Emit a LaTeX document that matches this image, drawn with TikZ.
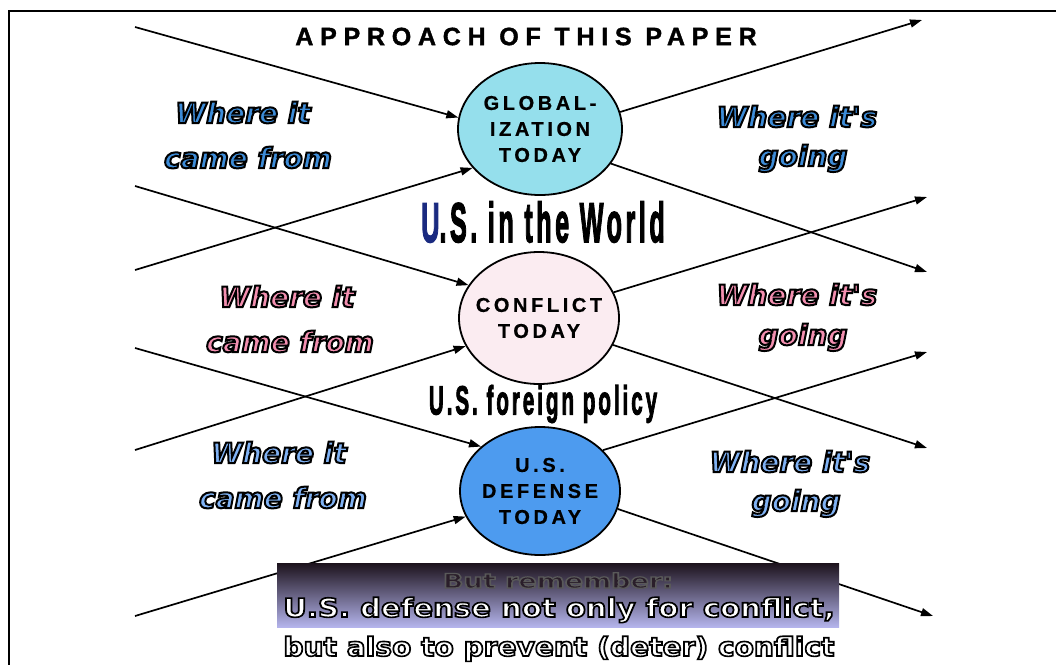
\documentclass[tikz,border=0pt]{standalone}
\usepackage{fontspec}
\setmainfont{Liberation Sans}
\newfontfamily\wfont{DejaVu Sans Bold Oblique}
\newfontfamily\bfont{DejaVu Sans Bold}
\newfontfamily\sfont{Liberation Sans Bold}[LetterSpace=18,FakeBold=0.6]
\newfontfamily\tfont{Liberation Sans Bold}[LetterSpace=27,FakeBold=1.5]
\newfontfamily\hfont{Liberation Sans Bold}[LetterSpace=14,FakeBold=3]
\usetikzlibrary{arrows.meta,shapes.geometric}
\definecolor{gblue}{HTML}{3D8CD8}
\definecolor{gpink}{HTML}{F38FB0}
\definecolor{lblue}{HTML}{80B2F4}
\definecolor{globfill}{HTML}{95DFEC}
\definecolor{conffill}{HTML}{FBECF1}
\definecolor{deffill}{HTML}{4D9BEF}
\definecolor{ublue}{HTML}{1A2A80}
\definecolor{boxtop}{HTML}{1C121C}
\definecolor{boxbot}{HTML}{B4B4EC}
\definecolor{remfill}{HTML}{2A1E2A}
% outlined text: fill in colour #2, black stroke of width #1
\newcommand\otxt[3][2.0]{{\color{#2}\special{pdf:literal direct 2 Tr #1 w 0 G}#3\special{pdf:literal direct 0 Tr}}}
\newcommand\gtxt[3][1.2]{{\color{#2}\special{pdf:literal direct 2 Tr #1 w 0.35 G}#3\special{pdf:literal direct 0 Tr}}}
\tikzset{
  ell/.style={ellipse, draw, line width=1.8pt, inner ysep=0pt, inner xsep=-12pt, align=center,
    font=\sfont\fontsize{20}{26}\selectfont},
  lab/.style={anchor=base, inner sep=0pt, font=\wfont\fontsize{28}{30}\selectfont},
  arr/.style={line width=1.7pt, -{Triangle[length=12pt,width=8pt]}},
  boxtxt/.style={anchor=base, inner sep=0pt},
}
\begin{document}
\begin{tikzpicture}[x=1pt,y=-1pt]
\path[use as bounding box] (0,0) rectangle (1056,665);
\draw[line width=2.2pt] (1056,11) -- (9,11) -- (9,665);

\node[inner sep=0pt] (title) at (526,36.5) {\tfont\fontsize{25}{27}\selectfont APPROACH OF THIS PAPER};

\node[ell, fill=globfill, minimum width=164pt, minimum height=132pt] (glob) at (540,129) {GLOBAL-\\IZATION\\TODAY};
\node[ell, fill=conffill, minimum width=160pt, minimum height=132pt] (conf) at (539,318) {CONFLICT\\TODAY};
\node[ell, fill=deffill, minimum width=160pt, minimum height=128pt] (def) at (540,491) {U.S.\\DEFENSE\\TODAY};

\coordinate (l1) at (135,27);
\coordinate (l2) at (135,186);
\coordinate (l3) at (135,270);
\coordinate (l4) at (135,348);
\coordinate (l5) at (135,450);
\coordinate (l6) at (135,616);
\coordinate (r1) at (922,20);
\coordinate (r2) at (927,197);
\coordinate (r3) at (927,272);
\coordinate (r4) at (927,352);
\coordinate (r5) at (927,448);
\coordinate (r6) at (933,616);

\draw[arr] (l1) -- (glob.172);
\draw[arr] (l3) -- (glob.210);
\draw[arr] (glob.12) -- (r1);
\draw[arr] (glob.-26) -- (r3);
\draw[arr] (l2) -- (conf.155);
\draw[arr] (l5) -- (conf.201);
\draw[arr] (conf.19) -- (r2);
\draw[arr] (conf.-20) -- (r5);
\draw[arr] (l4) -- (def.143);
\draw[arr] (l6) -- (def.199);
\draw[arr] (def.33) -- (r4);
\draw[arr] (def.-13) -- (r6);

\node[minimum width=562pt, minimum height=64pt, inner sep=0pt, top color=boxtop, bottom color=boxbot] (box) at (558,595) {};

\node[lab] (w1a) at (243,123) {\otxt{gblue}{Where it}};
\node[lab] (w1b) at (248,168) {\otxt{gblue}{came from}};
\node[lab] (g1a) at (797,127) {\otxt{gblue}{Where it's}};
\node[lab] (g1b) at (803,166) {\otxt{gblue}{going}};
\node[lab] (w2a) at (287,307) {\otxt{gpink}{Where it}};
\node[lab] (w2b) at (290,352) {\otxt{gpink}{came from}};
\node[lab] (g2a) at (797,305) {\otxt{gpink}{Where it's}};
\node[lab] (g2b) at (803,345) {\otxt{gpink}{going}};
\node[lab] (w3a) at (279,463) {\otxt{lblue}{Where it}};
\node[lab] (w3b) at (283,508) {\otxt{lblue}{came from}};
\node[lab] (g3a) at (790,472) {\otxt{lblue}{Where it's}};
\node[lab] (g3b) at (796,511) {\otxt{lblue}{going}};

\node[inner sep=0pt] (usw) at (543,222) {\scalebox{0.9}[2.0]{\hfont\fontsize{28}{30}\selectfont\textcolor{ublue}{U}.S. in the World}};
\node[inner sep=0pt] (usf) at (543,404) {\scalebox{0.74}[1.45]{\hfont\fontsize{28}{30}\selectfont U.S. foreign policy}};

\node[boxtxt] (br) at (558,588) {\scalebox{1.35}[1]{\bfont\fontsize{20}{22}\selectfont\gtxt{remfill}{But remember:}}};
\node[boxtxt] (bl1) at (559,617) {\scalebox{1.12}[1]{\bfont\fontsize{26}{28}\selectfont\otxt[1.6]{white}{U.S. defense not only for conflict,}}};
\node[boxtxt] (bl2) at (559,656) {\scalebox{1.08}[1]{\bfont\fontsize{26}{28}\selectfont\otxt[1.6]{white}{but also to prevent (deter) conflict}}};
\end{tikzpicture}
\end{document}
